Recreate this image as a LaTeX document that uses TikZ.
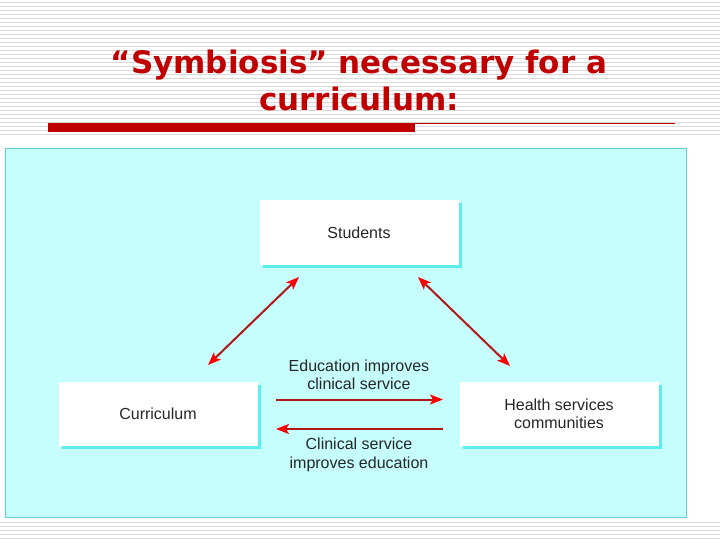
\documentclass[tikz,border=0pt]{standalone}
\usepackage{fontspec}
\setmainfont{Liberation Sans}
\newfontfamily\titlefont{DejaVu Sans}
\usetikzlibrary{arrows.meta,shadows}
\definecolor{titlered}{HTML}{C00000}
\definecolor{panelfill}{HTML}{C6FEFE}
\definecolor{paneledge}{HTML}{5ECECE}
\definecolor{boxshadow}{HTML}{5CEEEE}
\definecolor{stripe}{HTML}{D9D9D9}
\definecolor{arrowred}{HTML}{B01818}
\begin{document}
\begin{tikzpicture}[x=1pt, y=-1pt,
  >={Stealth[length=13pt, width=10pt, inset=3pt, color=red]},
  box/.style={fill=white, minimum width=199pt, minimum height=64pt, inner sep=0pt,
    align=center, text=black!85, font=\fontsize{16}{18}\selectfont,
    drop shadow={shadow xshift=3pt, shadow yshift=-3pt, fill=boxshadow, opacity=1}},
  label/.style={align=center, text=black!85, font=\fontsize{16}{18.5}\selectfont},
  heading/.style={anchor=base, text=titlered, font=\titlefont\bfseries\fontsize{31}{37}\selectfont},
  link/.style={draw=arrowred, line width=2pt}]
  \useasboundingbox (0,0) rectangle (720,540);
  \foreach \y in {2,6,...,538}
    \draw[stripe, line width=0.8pt] (0,\y) -- (720,\y);
  \fill[white] (0,138) rectangle (720,521);
  \draw[paneledge, fill=panelfill, line width=0.8pt] (5,148) rectangle (686,517);
  \node[heading] (title1) at (359,74) {“Symbiosis” necessary for a};
  \node[heading] (title2) at (359,111) {curriculum:};
  \fill[titlered] (48,123) rectangle (415,132);
  \draw[titlered, line width=0.8pt] (415,123.5) -- (675,123.5);
  \node[box] (students) at (359,232.5) {Students};
  \node[box] (curriculum) at (158,413.5) {Curriculum};
  \node[box] (health) at (559,413.5) {Health services\\communities};
  \node[label] (edu) at (359,375) {Education improves\\clinical service};
  \node[label] (clin) at (359,455) {Clinical service\\improves education};
  \coordinate (sl) at (299,277);
  \coordinate (cl) at (208,365);
  \coordinate (sr) at (418,277);
  \coordinate (hr) at (510,366);
  \coordinate (top-w) at (276,399.5);
  \coordinate (top-e) at (443,399.5);
  \coordinate (bot-w) at (276,429);
  \coordinate (bot-e) at (443,429);
  \draw[link, <->] (sl) -- (cl);
  \draw[link, <->] (sr) -- (hr);
  \draw[link, ->] (top-w) -- (top-e);
  \draw[link, ->] (bot-e) -- (bot-w);
\end{tikzpicture}
\end{document}
